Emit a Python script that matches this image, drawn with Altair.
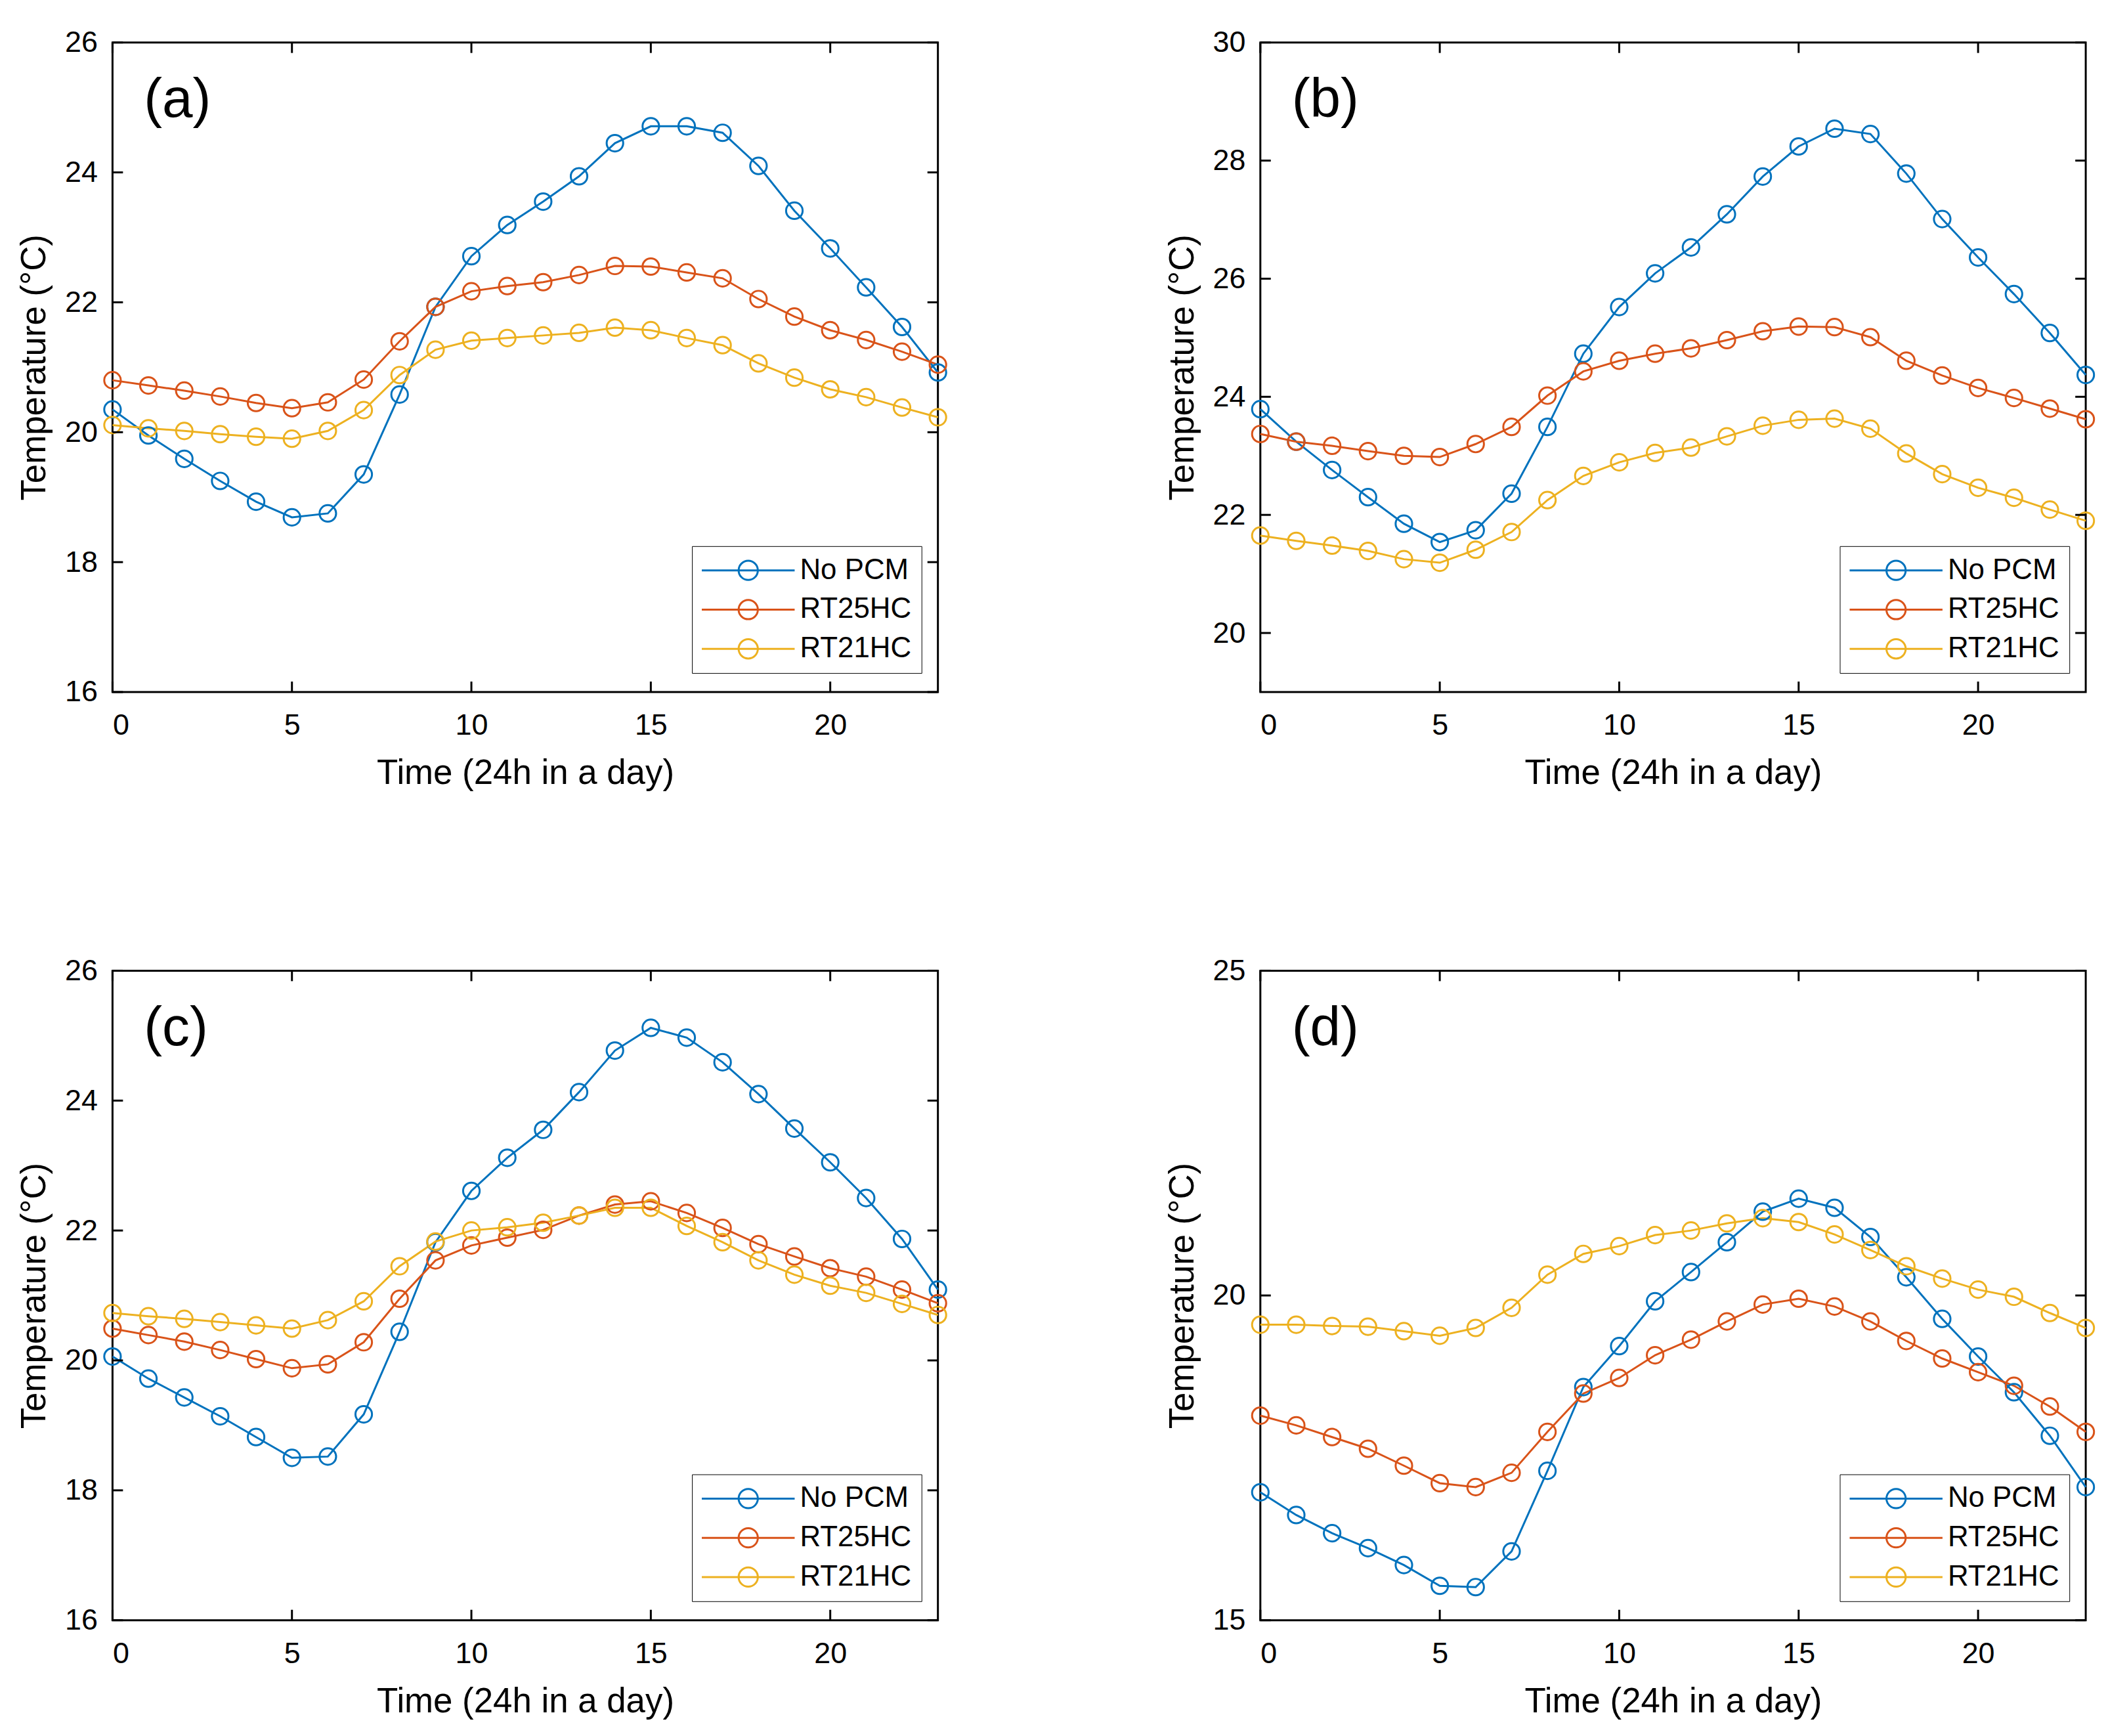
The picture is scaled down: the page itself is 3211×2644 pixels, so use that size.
import altair as alt
import pandas as pd

hours = list(range(24))
series_names = ["No PCM", "RT25HC", "RT21HC"]
series_colors = ["#0072BD", "#D95319", "#EDB120"]

a_nopcm = [20.35, 19.95, 19.59, 19.25, 18.93, 18.69, 18.75, 19.35, 20.58, 21.93, 22.71, 23.19,
           23.55, 23.94, 24.45, 24.71, 24.71, 24.61, 24.10, 23.41, 22.83, 22.23, 21.62, 20.92]
a_rt25 = [20.80, 20.72, 20.64, 20.55, 20.45, 20.37, 20.46, 20.81, 21.40, 21.93, 22.17, 22.25,
          22.31, 22.42, 22.56, 22.55, 22.46, 22.37, 22.05, 21.78, 21.57, 21.42, 21.24, 21.04]
a_rt21 = [20.11, 20.06, 20.02, 19.97, 19.93, 19.90, 20.02, 20.34, 20.88, 21.27, 21.41, 21.45,
          21.49, 21.53, 21.61, 21.57, 21.45, 21.34, 21.06, 20.84, 20.66, 20.54, 20.38, 20.23]

b_nopcm = [23.79, 23.24, 22.76, 22.30, 21.85, 21.54, 21.74, 22.36, 23.49, 24.73, 25.52, 26.09,
           26.53, 27.09, 27.73, 28.24, 28.54, 28.45, 27.78, 27.01, 26.36, 25.74, 25.08, 24.37]
b_rt25 = [23.37, 23.24, 23.17, 23.08, 23.00, 22.98, 23.20, 23.49, 24.02, 24.43, 24.61, 24.73,
          24.82, 24.96, 25.11, 25.19, 25.18, 25.01, 24.61, 24.36, 24.15, 23.98, 23.80, 23.62]
b_rt21 = [21.65, 21.56, 21.48, 21.39, 21.25, 21.19, 21.41, 21.71, 22.25, 22.66, 22.89, 23.05,
          23.14, 23.33, 23.51, 23.61, 23.63, 23.46, 23.04, 22.69, 22.46, 22.29, 22.09, 21.90]

c_nopcm = [20.06, 19.72, 19.43, 19.14, 18.82, 18.50, 18.52, 19.17, 20.44, 21.82, 22.61, 23.12,
           23.55, 24.13, 24.77, 25.12, 24.97, 24.59, 24.10, 23.57, 23.05, 22.50, 21.87, 21.09]
c_rt25 = [20.49, 20.39, 20.29, 20.16, 20.02, 19.88, 19.94, 20.28, 20.95, 21.54, 21.77, 21.89,
          22.01, 22.23, 22.40, 22.45, 22.27, 22.04, 21.79, 21.60, 21.42, 21.29, 21.09, 20.88]
c_rt21 = [20.73, 20.68, 20.64, 20.59, 20.54, 20.49, 20.62, 20.91, 21.45, 21.83, 22.00, 22.05,
          22.12, 22.23, 22.35, 22.35, 22.07, 21.82, 21.54, 21.32, 21.15, 21.04, 20.87, 20.70]

d_nopcm = [16.97, 16.62, 16.34, 16.11, 15.85, 15.53, 15.51, 16.06, 17.30, 18.59, 19.22, 19.91,
           20.36, 20.82, 21.29, 21.49, 21.35, 20.90, 20.28, 19.64, 19.06, 18.51, 17.84, 17.05]
d_rt25 = [18.15, 18.00, 17.82, 17.64, 17.38, 17.11, 17.05, 17.27, 17.90, 18.49, 18.73, 19.08,
          19.32, 19.60, 19.86, 19.95, 19.83, 19.60, 19.30, 19.03, 18.82, 18.61, 18.29, 17.90]
d_rt21 = [19.55, 19.55, 19.53, 19.52, 19.45, 19.38, 19.50, 19.81, 20.32, 20.64, 20.76, 20.93,
          21.00, 21.11, 21.19, 21.13, 20.94, 20.70, 20.45, 20.26, 20.09, 19.98, 19.73, 19.50]

x_ticks = [0, 5, 10, 15, 20]
x_title = "Time (24h in a day)"
y_title = "Temperature (°C)"

FONT = "Liberation Sans"
W, H = 1262, 993
TICK = 16
# horizontal line with a circle in the middle (1 unit = 14 px at symbolSize 784)
LEGEND_PATH = "M-5.07,0L5.07,0M-1.05,0A1.05,1.05,0,1,0,1.05,0A1.05,1.05,0,1,0,-1.05,0Z"


def panel(label, nopcm, rt25, rt21, ydomain, yticks):
    df = pd.DataFrame({
        "hour": hours * 3,
        "temp": nopcm + rt25 + rt21,
        "series": [s for s in series_names for _ in hours],
    })
    legend = alt.Legend(
        title=None, orient="none", legendX=886, legendY=770,
        symbolType=LEGEND_PATH, symbolSize=784, symbolStrokeWidth=3,
        symbolFillColor="transparent", symbolOffset=49,
        labelFont=FONT, labelFontSize=44, labelColor="black", labelOffset=57, labelLimit=500,
        strokeColor="black", fillColor="white", padding=15, rowPadding=16,
    )
    color = alt.Color("series:N", scale=alt.Scale(domain=series_names, range=series_colors),
                      legend=legend)
    xsc = alt.Scale(domain=[0, 23], nice=False)
    ysc = alt.Scale(domain=ydomain, nice=False, zero=False)
    xaxis = alt.Axis(values=x_ticks, title=x_title, ticks=False, tickSize=0, domain=False,
                     grid=False, labelFont=FONT, labelFontSize=45, labelColor="black",
                     labelPadding=29, titleFont=FONT, titleFontSize=53,
                     titleFontWeight="normal", titleColor="black", titlePadding=24)
    yaxis = alt.Axis(values=yticks, title=y_title, ticks=False, tickSize=0, domain=False,
                     grid=False, labelFont=FONT, labelFontSize=45, labelColor="black",
                     labelPadding=23, titleFont=FONT, titleFontSize=53,
                     titleFontWeight="normal", titleColor="black", titlePadding=19)
    x = alt.X("hour:Q", scale=xsc, axis=xaxis)
    y = alt.Y("temp:Q", scale=ysc, axis=yaxis)
    line = alt.Chart(df).mark_line(strokeWidth=3).encode(x=x, y=y, color=color)
    pts = alt.Chart(df).mark_point(shape="circle", filled=False, size=640, strokeWidth=3,
                                   opacity=1).encode(x=x, y=y, color=color)

    ydf = pd.DataFrame({"temp": yticks})
    xdf = pd.DataFrame({"hour": x_ticks})
    yl = alt.Chart(ydf).mark_rule(color="black", strokeWidth=3).encode(
        y=y, x=alt.value(0), x2=alt.value(TICK))
    yr = alt.Chart(ydf).mark_rule(color="black", strokeWidth=3).encode(
        y=y, x=alt.value(W - TICK), x2=alt.value(W))
    xb = alt.Chart(xdf).mark_rule(color="black", strokeWidth=3).encode(
        x=x, y=alt.value(H - TICK), y2=alt.value(H))
    xt = alt.Chart(xdf).mark_rule(color="black", strokeWidth=3).encode(
        x=x, y=alt.value(0), y2=alt.value(TICK))
    txt = alt.Chart(pd.DataFrame({"label": [label]})).mark_text(
        font=FONT, fontSize=84, align="left", baseline="middle", color="black").encode(
        text="label:N", x=alt.value(48), y=alt.value(89))
    return alt.layer(line, pts, yl, yr, xb, xt, txt).properties(width=W, height=H)


pa = panel("(a)", a_nopcm, a_rt25, a_rt21, [16, 26], [16, 18, 20, 22, 24, 26])
pb = panel("(b)", b_nopcm, b_rt25, b_rt21, [19, 30], [20, 22, 24, 26, 28, 30])
pc = panel("(c)", c_nopcm, c_rt25, c_rt21, [16, 26], [16, 18, 20, 22, 24, 26])
pd_ = panel("(d)", d_nopcm, d_rt25, d_rt21, [15, 25], [15, 20, 25])

top = alt.hconcat(pa, pb, spacing=325).resolve_scale(color="independent")
bottom = alt.hconcat(pc, pd_, spacing=325).resolve_scale(color="independent")
chart = alt.vconcat(top, bottom, spacing=249).resolve_scale(color="independent").properties(
    padding={"left": 17, "top": 28, "right": 5, "bottom": 5}, background="white"
).configure_view(stroke="black", strokeWidth=3)

chart.save("out.html", embed_options={"renderer": "svg", "actions": False})
